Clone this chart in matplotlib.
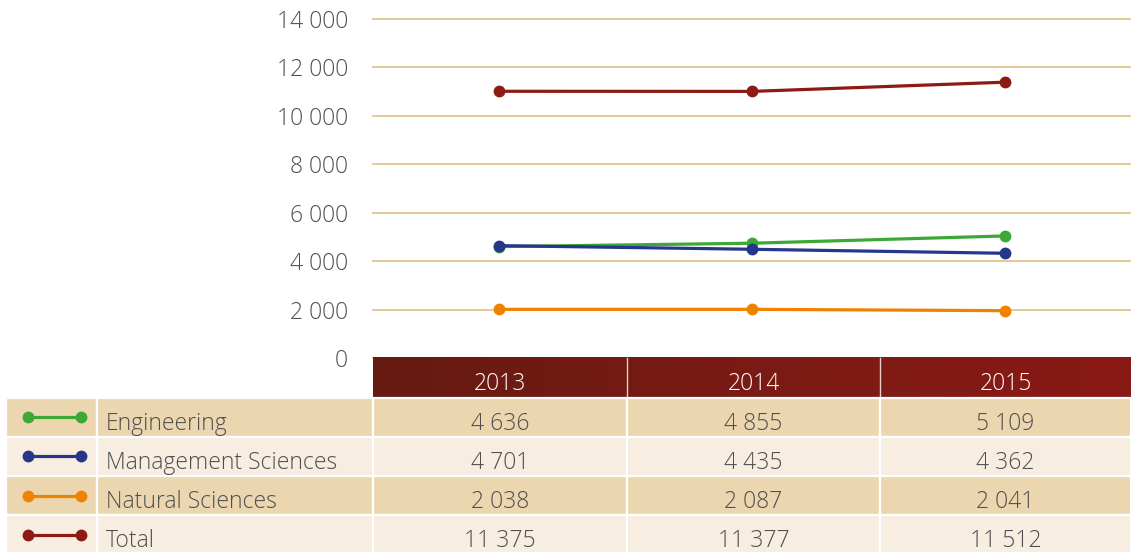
import matplotlib
matplotlib.use("Agg")
import matplotlib.pyplot as plt
import numpy as np
from matplotlib.colors import LinearSegmentedColormap
from matplotlib.ticker import FuncFormatter
from matplotlib.patches import Rectangle
from matplotlib.lines import Line2D

# ---------------- data ----------------
years = ["2013", "2014", "2015"]
series_names = ["Engineering", "Management Sciences", "Natural Sciences", "Total"]
engineering_plot = [4600, 4740, 5040]
management_plot = [4640, 4490, 4325]
natural_plot = [2010, 2010, 1955]
total_plot = [11015, 11010, 11390]
# values printed in the data table
engineering_table = [4636, 4855, 5109]
management_table = [4701, 4435, 4362]
natural_table = [2038, 2087, 2041]
total_table = [11375, 11377, 11512]
y_ticks = [0, 2000, 4000, 6000, 8000, 10000, 12000, 14000]

colors = ["#3DA935", "#26368A", "#F08200", "#8E1A16"]
plot_series = [engineering_plot, management_plot, natural_plot, total_plot]
table_series = [engineering_table, management_table, natural_table, total_table]

FONT = "Open Sans"
WEIGHT = "light"
FS = 16.5
TXT = "#4F4F4F"

W, H = 1131, 552
fig = plt.figure(figsize=(W / 100, H / 100), dpi=100)
fig.patch.set_facecolor("white")

def fmt(v):
    return f"{int(v):,}".replace(",", " ")

# ---------------- chart ----------------
left_px, right_px, top_px, zero_px = 373, 1131, 19, 358
ax = fig.add_axes([left_px / W, (H - zero_px) / H, (right_px - left_px) / W, (zero_px - top_px) / H])
ax.set_zorder(1)
ax.patch.set_alpha(0)
x = np.arange(len(years))
for vals, c in zip(plot_series, colors):
    ax.plot(x, vals, color=c, lw=2.3, marker="o", ms=7.5, solid_capstyle="round", zorder=3, clip_on=False)
ax.set_xlim(-0.5, len(years) - 0.5)
ax.set_ylim(0, 14000)
ax.set_yticks(y_ticks)
ax.yaxis.set_major_formatter(FuncFormatter(lambda v, p: fmt(v)))
ax.set_xticks([])
ax.tick_params(axis="y", length=0, pad=18, labelsize=FS, labelcolor=TXT)
for lab in ax.get_yticklabels():
    lab.set_fontfamily(FONT)
    lab.set_fontweight(WEIGHT)
ax.grid(axis="y", color="#E0C58C", lw=1.3)
for gl in ax.get_ygridlines():
    gl.set_clip_on(False)
for s in ax.spines.values():
    s.set_visible(False)

# ---------------- table (overlay in pixel coordinates) ----------------
ov = fig.add_axes([0, 0, 1, 1])
ov.set_zorder(2)
ov.patch.set_alpha(0)
ov.set_xlim(0, W)
ov.set_ylim(H, 0)
ov.axis("off")

col_edges = [373, 627, 880, 1131]
header_top, header_bot = 358, 397.5
row_h = 39.3
tan, light = "#EBD6B0", "#F7EDE0"

# header gradient
cmap = LinearSegmentedColormap.from_list("hdr", ["#661A12", "#7A1B14", "#8A1916"])
grad = np.linspace(0, 1, 256).reshape(1, -1)
ov.imshow(grad, cmap=cmap, aspect="auto", extent=(col_edges[0], W, header_bot, header_top), zorder=1)
for xe in col_edges[1:-1]:
    ov.plot([xe, xe], [header_top, header_bot], color="white", lw=1.0, alpha=0.8, zorder=2)
for j, yr in enumerate(years):
    cx = (col_edges[j] + col_edges[j + 1]) / 2
    ov.text(cx, header_top + 32, yr, ha="center", va="baseline", color="white",
            fontsize=FS, fontfamily=FONT, fontweight=WEIGHT, zorder=3)

for i, (name, c, vals) in enumerate(zip(series_names, colors, table_series)):
    top = header_bot + i * row_h
    fc = tan if i % 2 == 0 else light
    cells = [(6, 97), (97, 373)] + [(col_edges[j], col_edges[j + 1]) for j in range(3)]
    for (x0, x1) in cells:
        ov.add_patch(Rectangle((x0, top), x1 - x0, row_h, facecolor=fc, edgecolor="white", lw=1.6, zorder=1))
    cy = top + row_h / 2
    ov.add_line(Line2D([27.5, 80.5], [cy, cy], color=c, lw=2.3, marker="o", ms=7.5, zorder=3))
    ov.text(106, top + 32, name, ha="left", va="baseline", color=TXT,
            fontsize=FS, fontfamily=FONT, fontweight=WEIGHT, zorder=3)
    for j, v in enumerate(vals):
        cx = (col_edges[j] + col_edges[j + 1]) / 2
        ov.text(cx, top + 32, fmt(v), ha="center", va="baseline", color=TXT,
                fontsize=FS, fontfamily=FONT, fontweight=WEIGHT, zorder=3)

fig.savefig("out.png", dpi=100)
